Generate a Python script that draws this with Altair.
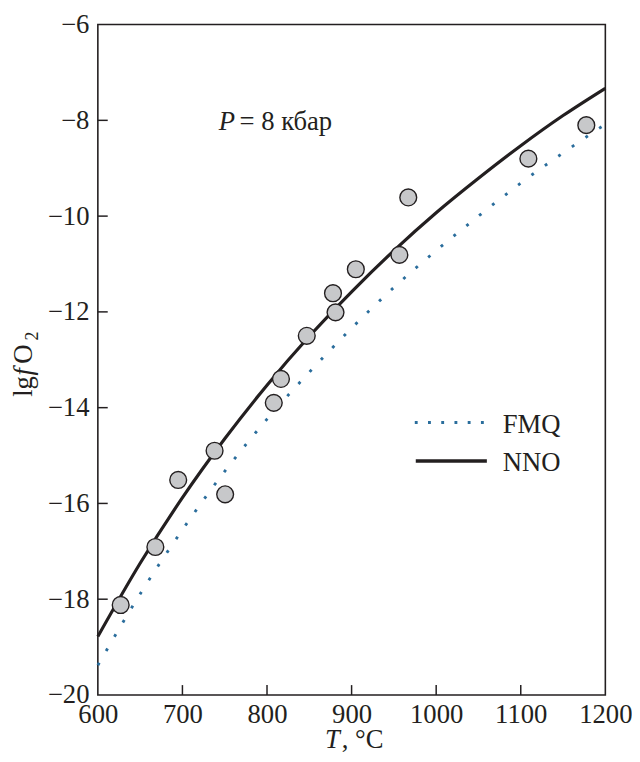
import altair as alt
import pandas as pd

# ---- data ----
grid_T = [600, 650, 700, 750, 800, 850, 900, 950, 1000, 1050, 1100, 1150, 1200]
nno_vals = [-18.78, -17.25, -15.88, -14.65, -13.53, -12.51, -11.58, -10.72, -9.93, -9.21, -8.53, -7.90, -7.33]
fmq_vals = [-19.38, -17.89, -16.55, -15.33, -14.24, -13.26, -12.34, -11.49, -10.72, -10.00, -9.31, -8.68, -8.08]
sample_T = [627, 668, 695, 738, 750.5, 808, 816.5, 847, 878, 881, 905, 956.5, 967, 1109, 1177.5]
sample_lgfO2 = [-18.12, -16.91, -15.51, -14.90, -15.81, -13.90, -13.40, -12.50, -11.61, -12.01,
                -11.11, -10.81, -9.61, -8.80, -8.10]
x_ticks = [600, 700, 800, 900, 1000, 1100, 1200]
y_ticks = [-6, -8, -10, -12, -14, -16, -18, -20]
legend_labels = ["FMQ", "NNO"]
pressure_text = ["P", "= 8 кбар"]
x_title = ["T", ", °C"]
y_title = ["lg", "f", "O", "2"]

# ---- style ----
W, H = 514, 679
FONT = "Liberation Serif"
FS = 27
INK = "#231f20"
BLUE = "#2a6d9c"

xs = alt.Scale(domain=[600, 1200], nice=False, zero=False)
ys = alt.Scale(domain=[-20, -6], nice=False, zero=False)
xa = alt.Axis(values=x_ticks, format="d", title=None, labelPadding=7)
ya = alt.Axis(values=y_ticks, format="d", title=None, labelPadding=9)


def X():
    return alt.X("T:Q", scale=xs, axis=xa)


def Y():
    return alt.Y("v:Q", scale=ys, axis=ya)


fmq_df = pd.DataFrame({"T": grid_T, "v": fmq_vals})
nno_df = pd.DataFrame({"T": grid_T, "v": nno_vals})
pts_df = pd.DataFrame({"T": sample_T, "v": sample_lgfO2})

fmq = alt.Chart(fmq_df).mark_line(
    color=BLUE, strokeWidth=2.9, strokeDash=[2.9, 13.8], strokeCap="butt", interpolate="monotone"
).encode(x=X(), y=Y())

nno = alt.Chart(nno_df).mark_line(
    color=INK, strokeWidth=3.2, interpolate="monotone"
).encode(x=X(), y=Y())

pts = alt.Chart(pts_df).mark_point(
    shape="circle", filled=True, fill="#c7c8ca", stroke=INK, strokeWidth=1.4, size=290, opacity=1
).encode(x=X(), y=Y())

xt = alt.Chart(pd.DataFrame({"T": x_ticks[1:-1]})).mark_rule(color=INK, strokeWidth=1.5).encode(
    x=X(), y=alt.value(H), y2=alt.value(H - 10)
)
yt = alt.Chart(pd.DataFrame({"v": y_ticks[1:-1]})).mark_rule(color=INK, strokeWidth=1.5).encode(
    y=Y(), x=alt.value(0), x2=alt.value(10)
)

one = pd.DataFrame({"k": [0]})

leg_fmq = alt.Chart(one).mark_rule(color=BLUE, strokeWidth=2.9, strokeDash=[2.9, 10.5], strokeCap="butt").encode(
    x=alt.value(321), x2=alt.value(392), y=alt.value(403)
)
leg_nno = alt.Chart(one).mark_rule(color=INK, strokeWidth=3.4).encode(
    x=alt.value(322), x2=alt.value(394), y=alt.value(442)
)


def txt(s, x, y, size=FS, style="normal", angle=0):
    kw = dict(align="left", baseline="alphabetic", font=FONT, fontSize=size, color=INK, fontStyle=style)
    if angle:
        kw["angle"] = angle
    return alt.Chart(pd.DataFrame({"s": [s]})).mark_text(**kw).encode(
        text="s:N", x=alt.value(x), y=alt.value(y)
    )


texts = [
    txt(legend_labels[0], 410, 413.5),
    txt(legend_labels[1], 410, 452),
    txt(pressure_text[0], 122.5, 107, style="italic"),
    txt(pressure_text[1], 143.5, 107),
    txt(x_title[0], 230, 733, style="italic"),
    txt(x_title[1], 247, 733),
    txt(y_title[0], -67, 377, angle=270),
    txt(y_title[1], -67, 355.5, style="italic", angle=270),
    txt(y_title[2], -67, 343.5, angle=270),
    txt(y_title[3], -61, 320, size=18, angle=270),
]

chart = alt.layer(fmq, nno, xt, yt, pts, leg_fmq, leg_nno, *texts).properties(
    width=W, height=H,
    autosize=alt.AutoSizeParams(type="none"),
    padding={"left": 91, "top": 12, "right": 27, "bottom": 55},
).configure_view(
    stroke=INK, strokeWidth=1.6
).configure_axis(
    domain=False, grid=False, ticks=False, tickSize=0,
    labelFont=FONT, labelFontSize=FS, labelColor=INK,
    labelFlush=False, labelOverlap=False, labelBound=False,
)

chart.save("out.html", embed_options={"renderer": "svg", "actions": False})
